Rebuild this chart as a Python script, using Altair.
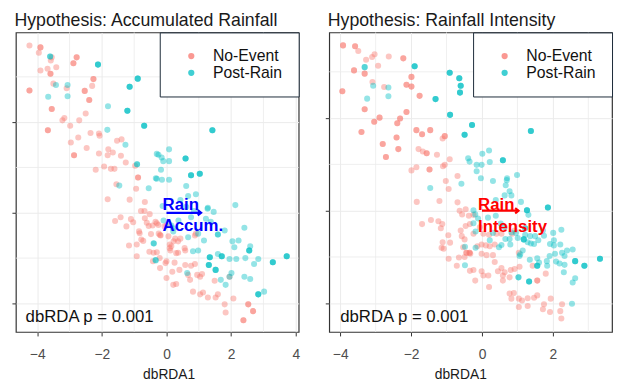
import altair as alt
import pandas as pd

FONT = "Liberation Sans"
groups = ["No-Event", "Post-Rain"]
colors = ["#F8766D", "#00BFC4"]

x_major = [-4, -2, 0, 2, 4]
x_minor = [-3, -1, 1, 3]
y_major = [-2, 0, 2]
y_minor = [-1, 1, 3]

# ---------------- Panel 1: Accumulated Rainfall ----------------
acc_no_event = [
    (-4.24, 3.69), (-3.90, 3.65), (-3.90, 3.65), (-3.95, 3.53), (-3.55, 3.43), (-3.58, 3.36),
    (-2.78, 3.43), (-2.78, 3.43), (-2.88, 3.30), (-2.88, 3.30), (-3.68, 3.18), (-3.41, 3.21),
    (-3.90, 3.14), (-3.59, 3.07), (-3.59, 3.07), (-2.26, 2.95), (-2.26, 2.95), (-2.30, 2.80),
    (-3.50, 2.85), (-3.09, 2.75), (-4.24, 2.70), (-4.24, 2.70), (-2.53, 2.69), (-2.53, 2.69),
    (-2.39, 2.49), (-2.39, 2.49), (-3.55, 2.29), (-3.55, 2.29), (-2.50, 2.19), (-3.16, 2.09),
    (-3.22, 2.04), (-2.70, 2.04), (-3.67, 1.82), (-3.67, 1.82), (-2.98, 1.92), (-2.35, 1.76),
    (-2.09, 1.75), (-2.07, 1.70), (-2.73, 1.66), (-2.96, 1.55), (-2.47, 1.43), (-2.86, 1.27),
    (-2.86, 1.27), (-2.09, 1.31), (-1.80, 1.40), (-1.66, 1.33), (-1.82, 1.27), (-1.53, 1.59),
    (-1.39, 1.62), (-1.41, 1.26), (-1.26, 1.11), (-1.93, 1.02), (-2.19, 0.95), (-1.72, 0.97),
    (-1.61, 0.97), (-0.97, 1.04), (-0.88, 0.78), (-0.88, 0.78),
    (-1.55, 0.63), (-0.94, 0.53), (-1.82, 0.30), (-1.14, 0.29), (-0.67, 0.24), (-0.79, 0.04),
    (-0.68, 0.04), (-1.42, -0.10), (-1.59, -0.18), (-1.10, -0.14), (-1.24, -0.30), (-1.03, -0.21),
    (-0.67, -0.12), (-0.52, -0.03), (-0.55, -0.29), (-0.30, -0.23), (-0.83, -0.45), (-0.48, -0.47),
    (-0.78, -0.59), (-0.72, -0.62), (-1.16, -0.72), (-0.92, -0.70), (-0.53, -0.86), (-0.40, -0.88),
    (-0.30, -0.87), (-0.92, -0.96), (-0.42, -1.07),
    (-0.34, -0.20), (-0.24, -0.46), (-0.18, -0.50), (0.06, -0.52), (0.27, -0.57), (0.43, -0.57),
    (0.15, -0.74), (0.12, -0.83), (0.30, -0.89), (0.58, -0.83), (0.91, -0.46), (0.88, -0.50),
    (0.00, -0.28), (-0.43, -0.28), (-0.61, -0.22), (-0.85, -0.41), (-0.06, -0.30), (-0.21, -1.00),
    (-0.03, -1.11), (0.18, -1.30), (0.40, -1.26), (0.58, -1.15), (0.76, -1.17), (0.88, -1.13),
    (0.67, -1.37), (0.95, -1.37), (1.04, -1.41), (0.73, -1.48), (1.10, -1.35), (0.21, -1.59),
    (0.82, -1.74), (1.13, -1.76), (1.04, -1.80), (1.28, -1.87), (1.52, -1.87), (1.59, -1.80),
    (2.07, -1.89), (1.80, -2.02), (2.53, -2.02), (2.53, -2.02), (2.68, -2.17), (2.68, -2.17),
    (2.38, -2.37), (2.38, -2.37), (1.83, -2.20), (1.49, -1.50), (1.95, -1.41),
    (0.00, -1.07), (0.25, -1.10), (-0.20, -1.22), (0.00, -1.44), (0.30, -1.57), (0.36, -0.63),
    (0.22, -0.63), (0.10, -0.70), (-0.25, -0.27), (-0.20, -0.49), (0.10, -0.78), (0.56, -0.78),
    (0.36, -0.88),
]
acc_post_rain = [
    (-3.60, 3.45), (-3.60, 3.45), (-3.42, 2.82), (-3.06, 2.82), (-3.66, 2.56), (-3.06, 2.57),
    (-2.12, 3.27), (-2.12, 3.27), (-2.12, 3.27), (-0.89, 2.96), (-0.89, 2.96), (-0.89, 2.96),
    (-1.14, 2.78), (-1.14, 2.78), (-1.14, 2.78), (-1.21, 2.25), (-1.21, 2.25), (-1.21, 2.25),
    (-1.81, 2.35), (-1.83, 1.83), (-0.69, 1.92), (-0.69, 1.92), (-0.69, 1.92), (-1.27, 1.50),
    (-0.91, 1.07), (-0.91, 1.07), (-0.30, 1.30), (-0.33, 0.76),
    (1.42, 1.82), (1.42, 1.82), (1.42, 1.82), (0.08, 1.40), (-0.25, 1.28), (-0.15, 1.22),
    (-0.10, 1.14), (0.08, 1.14), (0.59, 1.20), (0.59, 1.20), (0.59, 1.20), (-0.17, 0.95),
    (0.76, 0.83), (0.76, 0.83), (0.76, 0.83), (1.03, 0.86), (1.03, 0.86), (1.03, 0.86),
    (-0.30, 0.75), (-0.14, 0.73), (0.08, 0.73),
    (-1.46, 0.60), (-0.55, 0.54), (-0.39, -0.68), (-0.33, -1.05),
    (0.61, 0.59), (0.91, 0.41), (0.67, 0.37), (0.43, 0.28), (1.28, 0.11), (1.46, 0.02),
    (2.13, 0.17), (-0.09, -0.17), (0.15, -0.28), (1.59, -0.48), (1.59, -0.48), (0.21, -0.41),
    (1.22, -0.13), (1.37, -0.20), (0.67, -0.54), (0.98, -0.46), (1.16, -0.61), (1.80, -0.39),
    (2.41, -0.33), (2.23, -0.61), (2.04, -0.63), (2.56, -0.83), (2.56, -0.83), (2.56, -0.83),
    (2.10, -0.76), (2.59, -0.74), (2.84, -1.02), (2.44, -1.00), (2.71, -1.13),
    (3.29, -1.09), (3.29, -1.09), (3.29, -1.09), (3.72, -0.96), (3.72, -0.96), (3.72, -0.96),
    (0.82, -0.85), (0.98, -0.83), (1.34, -0.98), (1.34, -0.98), (1.34, -0.98), (1.59, -0.91),
    (1.71, -0.96), (1.71, -0.96), (1.71, -0.96), (1.95, -1.02), (2.16, -1.02),
    (1.31, -1.15), (1.31, -1.15), (1.31, -1.15), (1.52, -1.26), (1.52, -1.26), (1.52, -1.26),
    (2.01, -1.33), (1.95, -1.41), (2.41, -1.41), (2.59, -1.46), (1.68, -1.48), (1.83, -1.59),
    (2.84, -1.80), (2.84, -1.80), (2.84, -1.80), (3.02, -1.74), (-0.34, -1.04), (-0.40, -0.67),
    (0.64, -1.33), (0.61, 0.13), (0.85, 0.04), (0.37, -0.17), (0.76, -0.10), (-0.12, 0.15),
    (0.20, -0.34), (1.27, 0.09),
]

# ---------------- Panel 2: Rainfall Intensity ----------------
int_no_event = [
    (-3.92, 3.57), (-3.92, 3.57), (-3.58, 3.55), (-3.58, 3.55), (-3.49, 3.45), (-3.10, 3.32),
    (-3.03, 3.38), (-3.27, 3.26), (-2.63, 3.33), (-2.22, 3.29), (-2.22, 3.29), (-2.93, 3.13),
    (-3.61, 3.03), (-3.61, 3.03), (-3.31, 2.96), (-3.31, 2.96), (-3.09, 2.78), (-2.76, 2.67),
    (-1.99, 2.89), (-1.99, 2.89), (-2.13, 2.72), (-2.13, 2.72), (-1.99, 2.68), (-1.99, 2.68),
    (-1.76, 2.48), (-1.76, 2.48), (-3.94, 2.58), (-3.94, 2.58), (-3.31, 2.19), (-3.31, 2.19),
    (-2.13, 2.13), (-2.13, 2.13), (-2.89, 2.01), (-2.89, 2.01), (-3.04, 1.92), (-3.04, 1.92),
    (-2.31, 1.99), (-2.31, 1.99), (-2.39, 1.89), (-2.39, 1.89), (-3.40, 1.70), (-3.40, 1.70),
    (-1.85, 1.74), (-1.85, 1.74), (-1.69, 1.65), (-1.69, 1.65), (-1.46, 1.74), (-1.46, 1.74),
    (-2.41, 1.58), (-2.41, 1.58), (-1.05, 1.61), (-1.05, 1.61), (-1.11, 1.56), (-2.80, 1.44),
    (-2.80, 1.44), (-2.36, 1.33), (-2.36, 1.33), (-2.71, 1.16), (-2.71, 1.16), (-1.79, 1.33),
    (-1.67, 1.28), (-1.56, 1.24), (-1.56, 1.24), (-1.27, 1.21), (-0.91, 1.11), (-1.05, 0.99),
    (-1.10, 0.96), (-1.48, 0.89), (-1.48, 0.89), (-1.85, 0.94), (-1.99, 0.87), (-0.69, 0.75),
    (-1.02, 0.64),
    (-1.84, 0.19), (-1.20, 0.21), (-0.94, 0.47), (-0.69, 0.18), (-0.63, 0.00), (-0.46, 0.03),
    (-0.56, -0.08), (-0.37, -0.11), (-1.69, -0.29), (-1.44, -0.20), (-1.23, -0.23), (-1.12, -0.29),
    (-1.16, -0.38), (-0.46, -0.33), (-0.34, -0.29), (-0.60, -0.43), (-0.95, -0.53), (-0.57, -0.55),
    (-0.49, -0.62), (-1.11, -0.68), (-0.90, -0.69), (-1.14, -0.80), (-1.08, -0.82), (-0.53, -0.79),
    (-0.44, -0.91), (-0.44, -0.91), (-0.35, -0.91), (-0.35, -0.91), (-0.49, -1.00), (-0.94, -1.04),
    (-0.65, -1.01), (-0.71, -1.19), (-0.34, -1.30),
    (-0.24, -0.09), (-0.01, -0.73), (0.11, -0.75), (0.22, -0.77), (0.36, -0.73), (-0.24, -0.50),
    (0.04, -0.50), (0.20, -0.52), (0.41, -0.50), (0.55, -0.50), (0.85, -0.50), (0.92, -0.43),
    (1.04, -0.91), (-0.01, -0.93), (0.13, -0.96), (0.31, -0.96), (0.36, -1.11), (-0.24, -1.28),
    (-0.01, -1.31), (0.04, -1.40), (0.18, -1.40), (-0.19, -1.51), (0.20, -1.65), (0.59, -1.51),
    (0.59, -1.40), (0.78, -1.44), (0.92, -1.26), (1.06, -1.21), (0.81, -1.28), (1.43, -1.19),
    (1.56, -1.51), (1.56, -1.51), (1.80, -1.36), (0.78, -1.79), (0.90, -1.78), (0.83, -1.90),
    (1.04, -1.90), (1.13, -1.94), (1.29, -1.89), (1.47, -1.88), (1.56, -1.83), (1.04, -2.08),
    (1.29, -2.06), (1.75, -2.02), (1.72, -2.13), (1.94, -1.90), (2.26, -2.02), (2.21, -2.17),
    (2.24, -2.33), (1.92, -2.19), (-0.33, -0.93), (-0.06, -0.36), (-0.13, -0.77), (0.55, -1.24),
    (0.45, -1.31), (0.64, -1.33),
]
int_post_rain = [
    (-3.31, 3.10), (-3.31, 3.10), (-3.07, 2.70), (-2.64, 2.66), (-2.64, 2.47), (-3.24, 2.42),
    (-1.90, 3.12), (-1.90, 3.12), (-1.90, 3.12), (-0.91, 2.98), (-0.91, 2.98), (-0.91, 2.98),
    (-0.64, 2.86), (-0.64, 2.86), (-0.64, 2.86), (-0.60, 2.70), (-0.60, 2.70), (-0.60, 2.70),
    (-0.62, 2.55), (-0.62, 2.55), (-0.62, 2.55), (-1.31, 2.41), (-1.31, 2.41), (-1.31, 2.41),
    (-0.90, 2.07), (-0.90, 2.07), (-0.90, 2.07), (-0.28, 1.85), (-0.28, 1.85), (-0.28, 1.85),
    (-0.49, 1.64), (-0.49, 1.64), (-0.49, 1.64), (-0.39, 1.13), (-0.35, 1.06),
    (1.38, 1.72), (1.38, 1.72), (1.38, 1.72), (0.01, 1.23), (0.20, 1.30), (-0.15, 0.99),
    (-0.01, 0.99), (0.22, 1.05), (0.59, 1.09), (0.59, 1.09), (0.59, 1.09), (-0.15, 0.85),
    (-0.03, 0.70), (0.31, 0.64), (0.71, 0.70), (0.99, 0.77), (0.70, 0.66),
    (-1.46, 0.49), (-0.58, 0.58), (-0.48, -0.78), (-0.48, -1.18),
    (0.67, 0.55), (0.78, 0.42), (0.64, 0.33), (0.83, 0.33), (0.39, 0.23), (1.10, 0.19),
    (1.27, 0.01), (1.27, 0.01), (1.27, 0.01), (1.86, 0.07), (1.86, 0.07), (1.86, 0.07),
    (1.31, -0.09), (-0.24, 0.01), (-0.24, -0.27), (-0.18, -0.45), (0.31, -0.48), (0.64, -0.36),
    (0.83, -0.47), (0.96, -0.48), (1.01, -0.59), (0.66, -0.61), (0.78, -0.61),
    (1.18, -0.62), (1.18, -0.62), (1.18, -0.62), (1.22, -0.52), (1.36, -0.55), (1.29, -0.68),
    (1.38, -0.71), (1.47, -0.72), (1.59, -0.64), (2.01, -0.48), (2.24, -0.41), (1.92, -0.72),
    (2.03, -0.64), (2.03, -0.75), (2.21, -0.73), (1.75, -0.54), (1.50, -0.55), (2.26, -0.91),
    (2.40, -0.86), (2.56, -0.84), (2.33, -0.98), (2.06, -0.93), (1.91, -0.98), (1.83, -1.09),
    (2.09, -1.10), (2.19, -1.14), (2.33, -1.17), (2.63, -1.09), (2.63, -1.09), (2.63, -1.09),
    (2.89, -1.19), (2.89, -1.19), (2.89, -1.19), (3.33, -1.04), (3.33, -1.04), (3.33, -1.04),
    (1.35, -1.06), (1.56, -1.03), (1.61, -1.12), (1.56, -1.19), (1.56, -1.19), (1.56, -1.19),
    (1.06, -0.98), (1.15, -0.86), (1.08, -0.94), (1.84, -1.19), (2.31, -1.33), (2.63, -1.46),
    (2.56, -1.55), (1.33, -1.53), (1.33, -1.53), (1.33, -1.53), (1.03, -1.44), (1.03, -1.44),
    (2.54, -2.01), (-0.18, -0.80), (0.48, -0.79), (0.55, -0.74), (0.80, -0.73), (0.22, -0.64),
    (1.22, -0.38), (1.22, -0.38), (1.72, -0.43), (-0.19, -0.08), (-0.11, -0.17), (0.17, -0.15),
    (0.39, -0.11), (0.53, -0.28),
]

# annotation text
ann_p = "dbRDA p = 0.001"


def to_df(no_pts, post_pts):
    rows = [{"x": a, "y": b, "group": "No-Event"} for a, b in no_pts]
    rows += [{"x": a, "y": b, "group": "Post-Rain"} for a, b in post_pts]
    return pd.DataFrame(rows)


def panel(no_pts, post_pts, title, xdom, ydom, arrow_end, color, word1, word2,
          text_x, text_y1, text_y2, p_pos, title_x):
    df = to_df(no_pts, post_pts)
    xs = alt.Scale(domain=xdom, nice=False, zero=False)
    ys = alt.Scale(domain=ydom, nice=False, zero=False)

    minor_x = alt.Chart(pd.DataFrame({"x": x_minor})).mark_rule(
        color="#EBEBEB", strokeWidth=0.8
    ).encode(x=alt.X("x:Q", scale=xs, title="dbRDA1"))
    minor_y = alt.Chart(pd.DataFrame({"y": y_minor})).mark_rule(
        color="#EBEBEB", strokeWidth=0.8
    ).encode(y=alt.Y("y:Q", scale=ys, title=None))

    pts = alt.Chart(df).mark_circle(size=38, opacity=0.42).encode(
        x=alt.X("x:Q", scale=xs, title="dbRDA1",
                axis=alt.Axis(values=x_major, grid=True, gridColor="#EBEBEB",
                              domain=False, tickColor="#333333", tickSize=4,
                              labelFontSize=14, labelColor="#4D4D4D", labelPadding=12,
                              labelFont=FONT, titleFont=FONT, titleFontSize=14,
                              titleFontWeight="normal", titleColor="#1A1A1A",
                              titlePadding=6, titleX=title_x)),
        y=alt.Y("y:Q", scale=ys, title=None,
                axis=alt.Axis(values=y_major, grid=True, gridColor="#EBEBEB",
                              domain=False, labels=False, tickColor="#333333",
                              tickSize=4)),
        color=alt.Color("group:N", scale=alt.Scale(domain=groups, range=colors),
                        legend=alt.Legend(title=None, orient="top-right", offset=0,
                                          padding=16, symbolOffset=8,
                                          strokeColor="#1C2B39", fillColor="white",
                                          labelFontSize=16, labelFont=FONT,
                                          labelColor="#111111", labelOffset=14,
                                          symbolType="circle", symbolSize=40,
                                          symbolOpacity=0.75, rowPadding=1)),
    )

    arrow_df = pd.DataFrame({"x": [0.0], "x2": [arrow_end], "y": [0.0]})
    shaft = alt.Chart(arrow_df).mark_rule(color=color, strokeWidth=2.2).encode(
        x=alt.X("x:Q", scale=xs), x2="x2:Q", y=alt.Y("y:Q", scale=ys))
    head = alt.Chart(arrow_df).mark_point(
        shape="M-1,-0.8L0,0L-1,0.8", filled=False, color=color, strokeWidth=2.2,
        size=45, opacity=1
    ).encode(x=alt.X("x2:Q", scale=xs), y=alt.Y("y:Q", scale=ys))

    words_df = pd.DataFrame({"x": [text_x, text_x], "y": [text_y1, text_y2],
                             "t": [word1, word2]})
    words = alt.Chart(words_df).mark_text(
        align="left", baseline="alphabetic", font=FONT, fontSize=17,
        fontWeight="bold", color=color
    ).encode(x=alt.X("x:Q", scale=xs), y=alt.Y("y:Q", scale=ys), text="t:N")

    p_df = pd.DataFrame({"x": [p_pos[0]], "y": [p_pos[1]], "t": [ann_p]})
    ptxt = alt.Chart(p_df).mark_text(
        align="left", baseline="middle", font=FONT, fontSize=17, color="#111111"
    ).encode(x=alt.X("x:Q", scale=xs), y=alt.Y("y:Q", scale=ys), text="t:N")

    return alt.layer(minor_x, minor_y, pts, shaft, head, words, ptxt).properties(
        width=287, height=304,
        title=alt.TitleParams(title, anchor="start", fontSize=18, font=FONT,
                              fontWeight="normal", color="#1A1A1A", offset=2, dx=3),
    )


left = panel(acc_no_event, acc_post_rain, "Hypothesis: Accumulated Rainfall",
             [-4.66, 4.09], [-2.63, 3.98], 1.07, "#0000FF", "Rain", "Accum.",
             -0.12, 0.07, -0.41, (-4.36, -2.30), 155)
right = panel(int_no_event, int_post_rain, "Hypothesis: Rainfall Intensity",
              [-4.31, 3.67], [-2.62, 3.85], 1.03, "#FF0000", "Rain", "Intensity",
              -0.11, 0.02, -0.45, (-4.0, -2.30), 133)

chart = alt.hconcat(left, right, spacing=23).resolve_scale(
    x="independent", y="independent", color="independent"
).resolve_legend(color="independent").configure(
    padding={"left": 2, "top": 0, "right": 0, "bottom": 0}, background="white"
).configure_view(stroke="#333333", strokeWidth=1.2)

chart.save("out.html", embed_options={"renderer": "svg", "actions": False})
